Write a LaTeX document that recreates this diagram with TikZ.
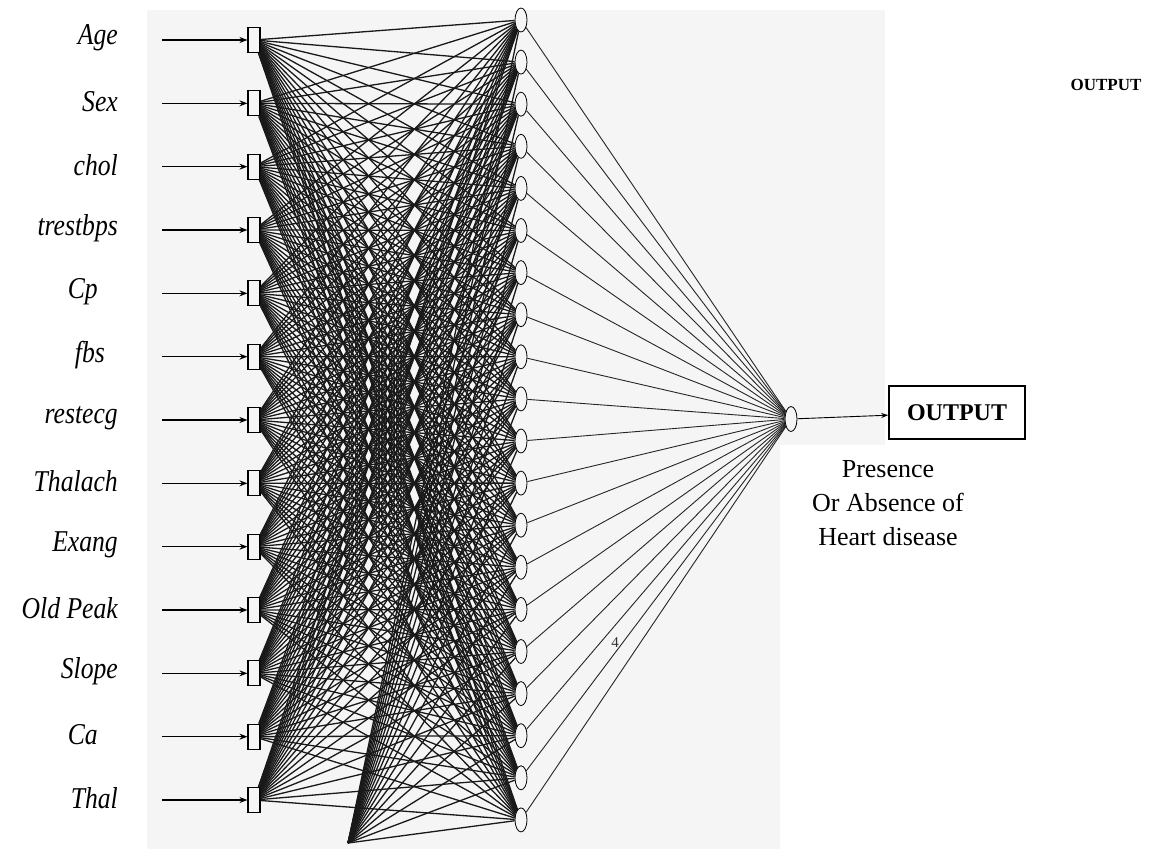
\documentclass[tikz,border=0pt]{standalone}
\usepackage{fontspec}
\setmainfont{Liberation Serif}
\usetikzlibrary{arrows.meta,shapes.geometric}

\begin{document}
\begin{tikzpicture}[x=1pt,y=-1pt,
  inbox/.style={draw, line width=1.1pt, minimum width=12pt, minimum height=25pt, inner sep=0pt},
  unit/.style={draw, ellipse, line width=0.8pt, minimum width=12pt, minimum height=24pt, inner sep=0pt},
  link/.style={line width=1.3pt, black!90},
  outlink/.style={line width=0.9pt, black!85},
  feat/.style={font=\fontsize{27}{29}\selectfont\itshape, anchor=east, inner sep=0pt},
  feed/.style={line width=1.4pt, -{Stealth[length=8pt,width=6pt]}},
  result/.style={draw, line width=1.6pt, minimum width=136pt, minimum height=53pt, inner sep=0pt,
    font=\fontsize{24}{26}\selectfont\bfseries},
]
\useasboundingbox (0,0) rectangle (1161,849);

% pale panel behind the network
\fill[black!4] (147,10) rectangle (885,445);
\fill[black!4] (147,445) rectangle (780,849);

% input features, their arrows and input units
\foreach \name/\rx [count=\i from 0] in {Age/118, Sex/118, chol/118, trestbps/118, Cp/98,
    fbs/105, restecg/118, Thalach/118, Exang/118, Old Peak/118, Slope/118, Ca/98, Thal/118} {
  \node[feat, xscale=0.95, yscale=1.12] (lab\i) at (\rx, {38+\i*63.333}) {\name};
  \node[inbox] (in\i) at (254, {40+\i*63.333}) {};
  \coordinate (src\i) at (162, {40+\i*63.333});
  \draw[feed] (src\i) -- (in\i);
}

% hidden units
\foreach \j in {0,...,19}
  \node[unit] (h\j) at (521, {20+\j*42.1}) {};

% bias point below the inputs
\coordinate (bias) at (348,843);

% output unit and result box
\node[unit, minimum height=25pt] (out) at (791,419) {};
\node[result] (res) at (957,412.5) {OUTPUT};
\draw[line width=0.9pt, -{Stealth[length=7pt,width=5pt]}] (out) -- (res);

% full connections input -> hidden
\foreach \i in {0,...,12}
  \foreach \j in {0,...,19}
    \draw[link] (in\i) -- (h\j);

% bias -> hidden
\foreach \j in {0,...,19}
  \draw[link] (bias) -- (h\j);

% hidden -> output
\foreach \j in {0,...,19}
  \draw[outlink] (h\j) -- (out);

% captions
\node[align=center, font=\fontsize{26}{34}\selectfont] (cap) at (888,503)
  {Presence\\Or Absence of\\Heart disease};
\node[font=\fontsize{17}{19}\selectfont\bfseries] (tag) at (1106,85) {OUTPUT};
\node[font=\fontsize{15}{16}\selectfont, black!80] (mark) at (615,643) {4};
\end{tikzpicture}
\end{document}
